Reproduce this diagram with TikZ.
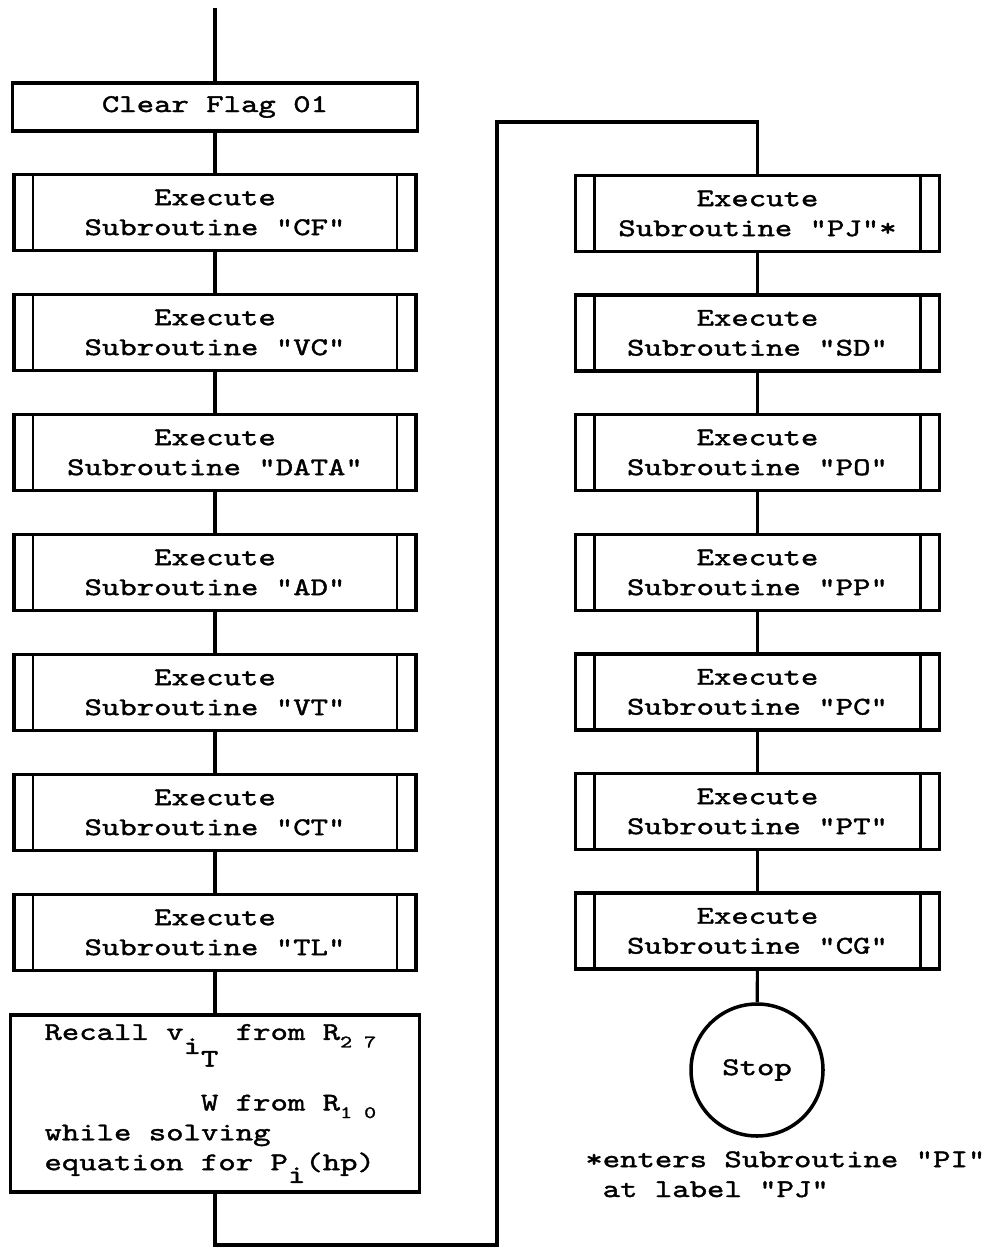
\documentclass[tikz,border=0pt]{standalone}
\usepackage{fontspec}
\setmonofont{lmmono10-regular.otf}[FakeStretch=1.3, FakeBold=1.5]
\usepackage{tikz}

\begin{document}
\begin{tikzpicture}[
  font=\ttfamily\fontsize{14.5}{17}\selectfont,
  proc/.style={draw, line width=2pt, align=center, minimum width=8.1cm, minimum height=0.96cm, inner sep=2pt},
  sub/.style={draw, line width=2pt, align=center, minimum width=8.04cm, minimum height=1.52cm, inner sep=2pt,
    path picture={\draw[line width=1.6pt] ([xshift=0.38cm]path picture bounding box.north west) -- ([xshift=0.38cm]path picture bounding box.south west)
      ([xshift=-0.38cm]path picture bounding box.north east) -- ([xshift=-0.38cm]path picture bounding box.south east);}},
  term/.style={draw, circle, line width=2pt, minimum size=2.64cm, inner sep=0pt},
  link/.style={line width=1.8pt},
  note/.style={align=left, inner sep=0pt}
]
\useasboundingbox (0,0) rectangle (19.82,-24.98);

% left column
\coordinate (top) at (4.3,-0.16);
\node[proc] (flag) at (4.3,-2.14) {Clear Flag 01};
\node[sub] (cf) at (4.3,-4.25) {Execute\\Subroutine "CF"};
\node[sub] (vc) at (4.3,-6.65) {Execute\\Subroutine "VC"};
\node[sub] (data) at (4.3,-9.05) {Execute\\Subroutine "DATA"};
\node[sub] (ad) at (4.3,-11.45) {Execute\\Subroutine "AD"};
\node[sub] (vt) at (4.3,-13.85) {Execute\\Subroutine "VT"};
\node[sub] (ct) at (4.3,-16.25) {Execute\\Subroutine "CT"};
\node[sub] (tl) at (4.3,-18.65) {Execute\\Subroutine "TL"};
\node[proc, minimum width=8.18cm, minimum height=3.54cm, text width=6.82cm, align=left] (recall) at (4.3,-22.07)
  {\spaceskip=0pt\xspaceskip=0pt
   Recall v\rlap{\raisebox{-0.55em}{i}\raisebox{-1.05em}{T}}\ \ \ from R\raisebox{-0.3em}{\fontsize{10}{10}\selectfont 2 7}\\[15pt]
   \phantom{Recall vi}W from R\raisebox{-0.3em}{\fontsize{10}{10}\selectfont 1 0}\\
   while solving\\
   equation for P\raisebox{-0.5em}{i}(hp)};

% right column
\coordinate (loop) at (9.94,-2.44);
\coordinate (low) at (9.94,-24.9);
\node[sub, minimum width=7.28cm] (pj) at (15.15,-4.27) {Execute\\Subroutine "PJ"*};
\node[sub, minimum width=7.28cm] (sd) at (15.15,-6.66) {Execute\\Subroutine "SD"};
\node[sub, minimum width=7.28cm] (po) at (15.15,-9.05) {Execute\\Subroutine "PO"};
\node[sub, minimum width=7.28cm] (pp) at (15.15,-11.45) {Execute\\Subroutine "PP"};
\node[sub, minimum width=7.28cm] (pc) at (15.15,-13.84) {Execute\\Subroutine "PC"};
\node[sub, minimum width=7.28cm] (pt) at (15.15,-16.23) {Execute\\Subroutine "PT"};
\node[sub, minimum width=7.28cm] (cg) at (15.15,-18.62) {Execute\\Subroutine "CG"};
\node[term] (stop) at (15.14,-21.4) {Stop};
\node[note, anchor=base west] (fn) at (11.7,-23.94) {*enters Subroutine "PI"\\\ at label "PJ"};

\draw[link] (top) -- (flag);
\draw[link] (flag) -- (cf);
\draw[link] (cf) -- (vc);
\draw[link] (vc) -- (data);
\draw[link] (data) -- (ad);
\draw[link] (ad) -- (vt);
\draw[link] (vt) -- (ct);
\draw[link] (ct) -- (tl);
\draw[link] (tl) -- (recall);
\draw[link] (recall.south) |- (low) -- (loop) -| (pj.north);
\draw[link] (pj) -- (sd);
\draw[link] (sd) -- (po);
\draw[link] (po) -- (pp);
\draw[link] (pp) -- (pc);
\draw[link] (pc) -- (pt);
\draw[link] (pt) -- (cg);
\draw[link] (cg) -- (stop);
\end{tikzpicture}
\end{document}
